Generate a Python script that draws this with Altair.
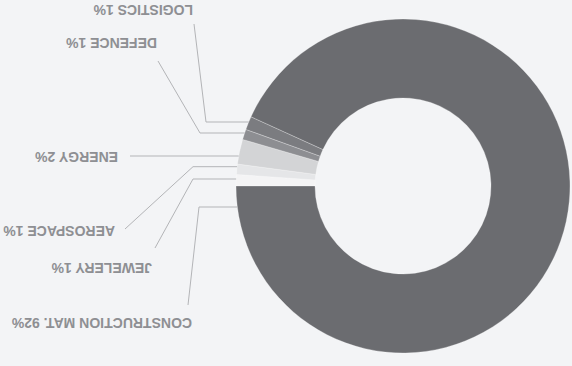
import math
import altair as alt
import pandas as pd

# ---- data ----
sectors = ["Jewelery", "Aerospace", "Energy", "Defence", "Logistics", "Construction Mat."]
shares = [1.1, 1.0, 2.4, 1.0, 1.3, 93.2]
labels = ["JEWELERY 1%", "AEROSPACE 1%", "ENERGY 2%", "DEFENCE 1%", "LOGISTICS 1%",
          "CONSTRUCTION MAT. 92%"]
colors = ["#f4f4f5", "#e5e6e8", "#d3d4d6", "#8d8e92", "#7b7c80", "#6b6c70"]

# ---- layout (annotation placement) ----
W, H = 572, 366
CX, CY, R_OUT, R_IN = 403, 186, 167, 88
label_anchor = [(152, 267), (115, 229.5), (118, 156), (157, 42), (193, 9), (192, 322)]
line_start = [(155, 248), (125, 229), (130, 156), (158, 61), (194, 24), (188, 305)]
line_elbow = [(193, 179), (193, 166.7), (130, 156), (200, 133), (206, 122), (199, 207)]

pie = pd.DataFrame({"sector": sectors, "share": shares, "idx": list(range(len(sectors)))})

rows = []
for i, s in enumerate(sectors):
    ex, ey = line_elbow[i]
    edge_x = CX - math.sqrt(R_OUT ** 2 - (ey - CY) ** 2)
    pts = [line_start[i], line_elbow[i], (edge_x, ey)]
    for k, (px, py) in enumerate(pts):
        rows.append({"sector": s, "k": k, "px": px, "py": py})
lines = pd.DataFrame(rows)

lab = pd.DataFrame({
    "label": labels,
    "lx": [a[0] for a in label_anchor],
    "ly": [a[1] for a in label_anchor],
})

xs = alt.Scale(domain=[0, W], nice=False, zero=False)
ys = alt.Scale(domain=[0, H], nice=False, zero=False, reverse=True)

donut = alt.Chart(pie).mark_arc(
    outerRadius=R_OUT, innerRadius=R_IN, stroke="#ffffff", strokeWidth=0.6, strokeOpacity=0.45
).encode(
    theta=alt.Theta("share:Q", stack=True,
                    scale=alt.Scale(range=[1.5 * math.pi, 3.5 * math.pi])),
    order=alt.Order("idx:Q"),
    color=alt.Color("sector:N", scale=alt.Scale(domain=sectors, range=colors), legend=None),
    x=alt.value(CX),
    y=alt.value(CY),
)

leader = alt.Chart(lines).mark_line(color="#b3b4b7", strokeWidth=1).encode(
    x=alt.X("px:Q", scale=xs, axis=None),
    y=alt.Y("py:Q", scale=ys, axis=None),
    detail="sector:N",
    order="k:Q",
)

text = alt.Chart(lab).mark_text(
    angle=180, align="left", baseline="middle", font="Liberation Sans",
    fontSize=14, fontWeight="bold", color="#8e8f93"
).encode(
    x=alt.X("lx:Q", scale=xs, axis=None),
    y=alt.Y("ly:Q", scale=ys, axis=None),
    text="label:N",
)

chart = alt.layer(donut, leader, text).properties(
    width=W, height=H, padding=0, autosize=alt.AutoSizeParams(type="none"),
    background="#f3f4f6",
).configure_view(stroke=None)

chart.save("out.html", embed_options={"renderer": "svg", "actions": False})
